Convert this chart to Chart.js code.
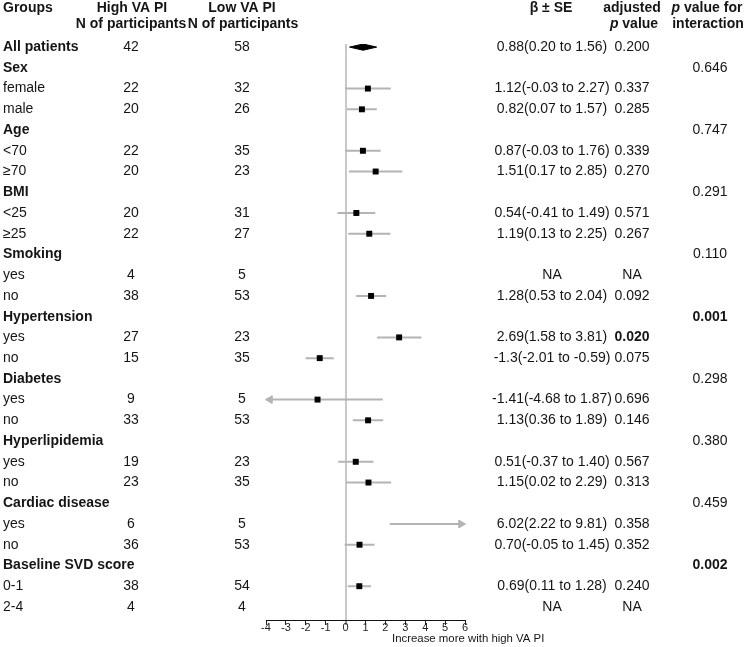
<!DOCTYPE html>
<html>
<head>
<meta charset="utf-8">
<script src="https://cdn.jsdelivr.net/npm/chart.js@4"></script>
<style>
  html, body { margin: 0; padding: 0; background: #fff; }
  canvas { display: block; }
</style>
</head>
<body>
<canvas id="forest" width="753" height="647" style="width:753px;height:647px"></canvas>
<script>
// rows, top to bottom
const groups = ['All patients', 'Sex', 'female', 'male', 'Age', '<70', '≥70', 'BMI', '<25', '≥25',
    'Smoking', 'yes', 'no', 'Hypertension', 'yes', 'no', 'Diabetes', 'yes', 'no',
    'Hyperlipidemia', 'yes', 'no', 'Cardiac disease', 'yes', 'no', 'Baseline SVD score', '0-1', '2-4'];
const headingRows = ['All patients', 'Sex', 'Age', 'BMI', 'Smoking', 'Hypertension', 'Diabetes',
    'Hyperlipidemia', 'Cardiac disease', 'Baseline SVD score'];
const nHigh = [42, null, 22, 20, null, 22, 20, null, 20, 22, null, 4, 38, null, 27, 15, null, 9, 33,
    null, 19, 23, null, 6, 36, null, 38, 4];
const nLow = [58, null, 32, 26, null, 35, 23, null, 31, 27, null, 5, 53, null, 23, 35, null, 5, 53,
    null, 23, 35, null, 5, 53, null, 54, 4];
const beta = [0.88, null, 1.12, 0.82, null, 0.87, 1.51, null, 0.54, 1.19, null, null, 1.28, null, 2.69, -1.3, null, -1.41, 1.13,
    null, 0.51, 1.15, null, 6.02, 0.70, null, 0.69, null];
const ciLow = [0.20, null, -0.03, 0.07, null, -0.03, 0.17, null, -0.41, 0.13, null, null, 0.53, null, 1.58, -2.01, null, -4.68, 0.36,
    null, -0.37, 0.02, null, 2.22, -0.05, null, 0.11, null];
const ciHigh = [1.56, null, 2.27, 1.57, null, 1.76, 2.85, null, 1.49, 2.25, null, null, 2.04, null, 3.81, -0.59, null, 1.87, 1.89,
    null, 1.40, 2.29, null, 9.81, 1.45, null, 1.28, null];
const betaLabels = ['0.88(0.20 to 1.56)', '', '1.12(-0.03 to 2.27)', '0.82(0.07 to 1.57)', '', '0.87(-0.03 to 1.76)',
    '1.51(0.17 to 2.85)', '', '0.54(-0.41 to 1.49)', '1.19(0.13 to 2.25)', '', 'NA', '1.28(0.53 to 2.04)', '',
    '2.69(1.58 to 3.81)', '-1.3(-2.01 to -0.59)', '', '-1.41(-4.68 to 1.87)', '1.13(0.36 to 1.89)', '',
    '0.51(-0.37 to 1.40)', '1.15(0.02 to 2.29)', '', '6.02(2.22 to 9.81)', '0.70(-0.05 to 1.45)', '',
    '0.69(0.11 to 1.28)', 'NA'];
const adjP = ['0.200', '', '0.337', '0.285', '', '0.339', '0.270', '', '0.571', '0.267', '', 'NA', '0.092', '',
    '0.020', '0.075', '', '0.696', '0.146', '', '0.567', '0.313', '', '0.358', '0.352', '', '0.240', 'NA'];
const pInteraction = ['', '0.646', '', '', '0.747', '', '', '0.291', '', '', '0.110', '', '', '0.001', '', '',
    '0.298', '', '', '0.380', '', '', '0.459', '', '', '0.002', '', ''];
const xTicks = [-4, -3, -2, -1, 0, 1, 2, 3, 4, 5, 6];

const X_MIN = xTicks[0];
const X_MAX = xTicks[xTicks.length - 1];
const ARROW_INSET = 0.2; // arrow head centre sits just inside the axis end
const clip = v => Math.min(X_MAX, Math.max(X_MIN, v));

// whisker segments, broken by gaps; the first row gets the diamond instead
const whiskers = [];
const arrowsLeft = [];
const arrowsRight = [];
const squares = [];
groups.forEach((g, i) => {
    if (i === 0 || ciLow[i] === null) return;
    whiskers.push({x: clip(ciLow[i]), y: i}, {x: clip(ciHigh[i]), y: i}, {x: null, y: null});
    if (ciLow[i] < X_MIN) arrowsLeft.push({x: X_MIN + ARROW_INSET, y: i});
    if (ciHigh[i] > X_MAX) arrowsRight.push({x: X_MAX - ARROW_INSET, y: i});
    if (beta[i] >= X_MIN && beta[i] <= X_MAX) squares.push({x: beta[i], y: i});
});
const dh = 0.15;
const diamond = [
    {x: ciLow[0], y: 0}, {x: beta[0], y: -dh}, {x: ciHigh[0], y: 0}, {x: beta[0], y: dh}, {x: ciLow[0], y: 0}
];

const FONT = '"Liberation Sans", Arial, sans-serif';
const INK = '#151515';
const WHISKER = '#b4b4b4';

function drawParts(ctx, parts, cx, y) {
    let total = 0;
    parts.forEach(p => { ctx.font = p.font; total += ctx.measureText(p.text).width; });
    let x = cx - total / 2;
    ctx.textAlign = 'left';
    parts.forEach(p => {
        ctx.font = p.font;
        ctx.fillText(p.text, x, y);
        x += ctx.measureText(p.text).width;
    });
}

const tablePlugin = {
    id: 'tableText',
    afterDraw(chart) {
        const ctx = chart.ctx;
        const yScale = chart.scales.y;
        const bold = `bold 14px ${FONT}`;
        const boldIt = `italic bold 14px ${FONT}`;
        const plain = `14px ${FONT}`;
        ctx.save();
        ctx.fillStyle = INK;
        ctx.textBaseline = 'middle';

        // header
        ctx.font = bold;
        ctx.textAlign = 'left';
        ctx.fillText('Groups', 3, 8);
        ctx.textAlign = 'center';
        ctx.fillText('High VA PI', 132, 8);
        ctx.fillText('N of participants', 131, 24);
        ctx.fillText('Low VA PI', 242, 8);
        ctx.fillText('N of participants', 243, 24);
        ctx.fillText('β ± SE', 551, 8);
        ctx.fillText('adjusted', 632, 8);
        drawParts(ctx, [{text: 'p', font: boldIt}, {text: ' value', font: bold}], 634, 24);
        drawParts(ctx, [{text: 'p', font: boldIt}, {text: ' value for', font: bold}], 707, 8);
        ctx.font = bold;
        ctx.textAlign = 'center';
        ctx.fillText('interaction', 708, 24);

        groups.forEach((g, i) => {
            const y = yScale.getPixelForValue(i);
            const isHead = headingRows.includes(g) && (i === 0 || nHigh[i] === null);
            ctx.font = isHead ? bold : plain;
            ctx.textAlign = 'left';
            ctx.fillText(g, 3, y);
            ctx.font = plain;
            ctx.textAlign = 'center';
            if (nHigh[i] !== null) ctx.fillText(String(nHigh[i]), 131, y);
            if (nLow[i] !== null) ctx.fillText(String(nLow[i]), 242, y);
            if (betaLabels[i]) ctx.fillText(betaLabels[i], 552, y);
            if (adjP[i]) {
                ctx.font = parseFloat(adjP[i]) < 0.05 ? bold : plain;
                ctx.fillText(adjP[i], 632, y);
            }
            if (pInteraction[i]) {
                ctx.font = parseFloat(pInteraction[i]) < 0.05 ? bold : plain;
                ctx.fillText(pInteraction[i], 710, y);
            }
        });

        // axis caption
        ctx.font = `11.4px ${FONT}`;
        ctx.textAlign = 'left';
        ctx.fillText('Increase more with high VA PI', 392, 639);
        ctx.restore();
    }
};

// Chart.js paints the first dataset last, so marks go first and whiskers last
new Chart(document.getElementById('forest').getContext('2d'), {
    type: 'scatter',
    data: {
        datasets: [
            {
                type: 'line',
                data: diamond,
                borderColor: '#000',
                backgroundColor: '#000',
                borderWidth: 1,
                pointRadius: 0,
                fill: 'shape'
            },
            {
                type: 'scatter',
                data: squares,
                pointStyle: 'rect',
                pointRadius: 4.2,
                backgroundColor: '#000',
                borderColor: '#000',
                borderWidth: 0
            },
            {
                type: 'scatter',
                data: arrowsLeft,
                pointStyle: 'triangle',
                rotation: -90,
                pointRadius: 4.5,
                backgroundColor: WHISKER,
                borderColor: WHISKER,
                clip: false
            },
            {
                type: 'scatter',
                data: arrowsRight,
                pointStyle: 'triangle',
                rotation: 90,
                pointRadius: 4.5,
                backgroundColor: WHISKER,
                borderColor: WHISKER,
                clip: false
            },
            {
                type: 'line',
                data: whiskers,
                borderColor: WHISKER,
                borderWidth: 2,
                pointRadius: 0,
                spanGaps: false,
                fill: false
            }
        ]
    },
    options: {
        responsive: false,
        animation: false,
        devicePixelRatio: 1,
        layout: {padding: {left: 266, right: 288, top: 44, bottom: 0}},
        plugins: {legend: {display: false}, tooltip: {enabled: false}},
        scales: {
            x: {
                type: 'linear',
                min: X_MIN,
                max: X_MAX,
                afterBuildTicks: s => { s.ticks = xTicks.map(v => ({value: v})); },
                afterFit: s => { s.height = 27; },
                grid: {
                    drawOnChartArea: true,
                    color: c => (c.tick && c.tick.value === 0 ? '#c8c8c8' : 'rgba(0,0,0,0)'),
                    lineWidth: c => (c.tick && c.tick.value === 0 ? 2 : 1),
                    tickColor: '#222',
                    tickLength: 5,
                    tickWidth: 1
                },
                border: {display: true, color: '#111', width: 1},
                ticks: {
                    color: '#222',
                    padding: -4,
                    maxRotation: 0,
                    font: {family: FONT, size: 11}
                }
            },
            y: {
                type: 'linear',
                display: false,
                reverse: true,
                min: -0.15,
                max: 27.63
            }
        }
    },
    plugins: [tablePlugin]
});
</script>
</body>
</html>
